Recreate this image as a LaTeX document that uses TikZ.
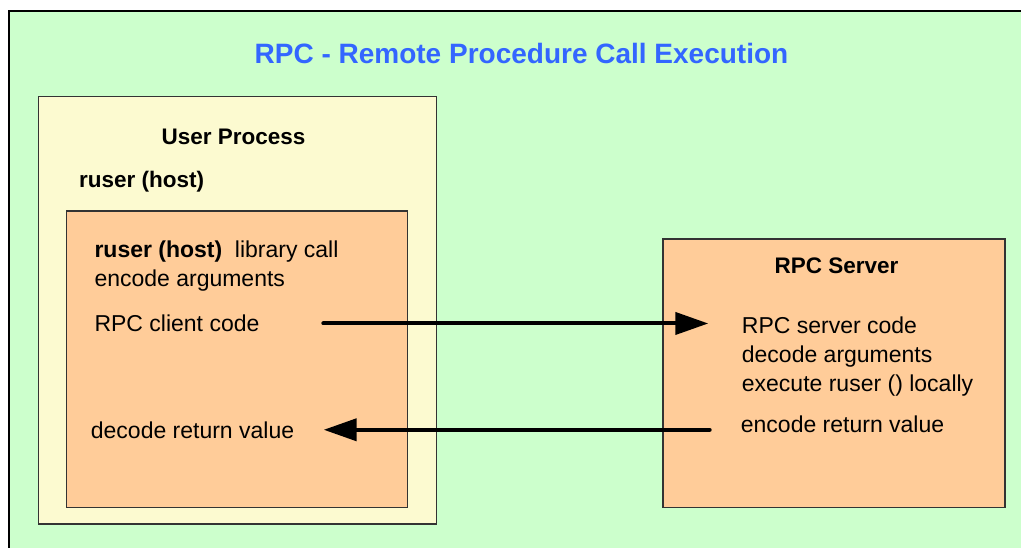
\documentclass[tikz,border=0pt]{standalone}
\usepackage{fontspec}
\setmainfont{Liberation Sans}
\usetikzlibrary{arrows.meta}
\definecolor{bggreen}{RGB}{204,255,204}
\definecolor{procyellow}{RGB}{252,250,208}
\definecolor{liborange}{RGB}{255,204,153}
\definecolor{titleblue}{RGB}{51,102,255}
\definecolor{edgegray}{RGB}{51,51,51}

\begin{document}
\begin{tikzpicture}[x=1pt, y=-1pt,
    box/.style={draw=edgegray, line width=1.2pt, inner sep=0pt},
    txt/.style={anchor=base west, inner sep=0pt, font=\fontsize{23}{27}\selectfont},
    head/.style={anchor=base, inner sep=0pt, font=\fontsize{22.5}{27}\selectfont\bfseries},
    flow/.style={line width=4pt, line cap=round, -{Triangle[length=33pt,width=22pt]}}]
        % Frame
        \useasboundingbox (0,0) rectangle (1021,548);
        \clip (0,0) rectangle (1021,548);
        \fill[white] (0,0) rectangle (1021,548);
        \draw[fill=bggreen, line width=1.3pt] (9,11) rectangle (1040,570);
        % Title
        \node[anchor=base, inner sep=0pt, text=titleblue, font=\fontsize{28}{34}\selectfont\bfseries] (title) at (521.5,64) {RPC - Remote Procedure Call Execution};
        % Boxes
        \node[box, fill=procyellow, minimum width=398.4pt, minimum height=427.3pt] (user) at (237.5,310.4) {};
        \node[box, fill=liborange, minimum width=340.8pt, minimum height=296.7pt] (lib) at (237.1,359.4) {};
        \node[box, fill=liborange, minimum width=342pt, minimum height=268.7pt] (server) at (834,373.4) {};
        % User process texts
        \node[head] (usertitle) at (233.5,145) {User Process};
        \node[txt, font=\fontsize{22.5}{27}\selectfont\bfseries] (ruser) at (79,187.5) {ruser (host)};
        \node[txt] (libcall) at (94.3,258) {\textbf{ruser (host)}\hspace{0.55em}library call};
        \node[txt] (encarg) at (94.3,286.7) {encode arguments};
        \node[txt] (client) at (94.3,331.7) {RPC client code};
        \node[txt] (dec) at (90.7,438) {decode return value};
        % Server texts
        \node[head] (srvtitle) at (836.5,273.3) {RPC Server};
        \node[txt] (srvcode) at (741.7,333.3) {RPC server code};
        \node[txt] (decarg) at (741.7,362.3) {decode arguments};
        \node[txt] (exec) at (741.7,391.7) {execute ruser () locally};
        \node[txt] (enc) at (740.7,432.7) {encode return value};
        % Arrows
        \draw[flow, shorten <=63.7pt, shorten >=33.4pt] (client.east) -- (client.east -| srvcode.west);
        \draw[flow, shorten <=31pt, shorten >=29.3pt] (enc.west |- dec.east) -- (dec.east);
    \end{tikzpicture}
\end{document}
